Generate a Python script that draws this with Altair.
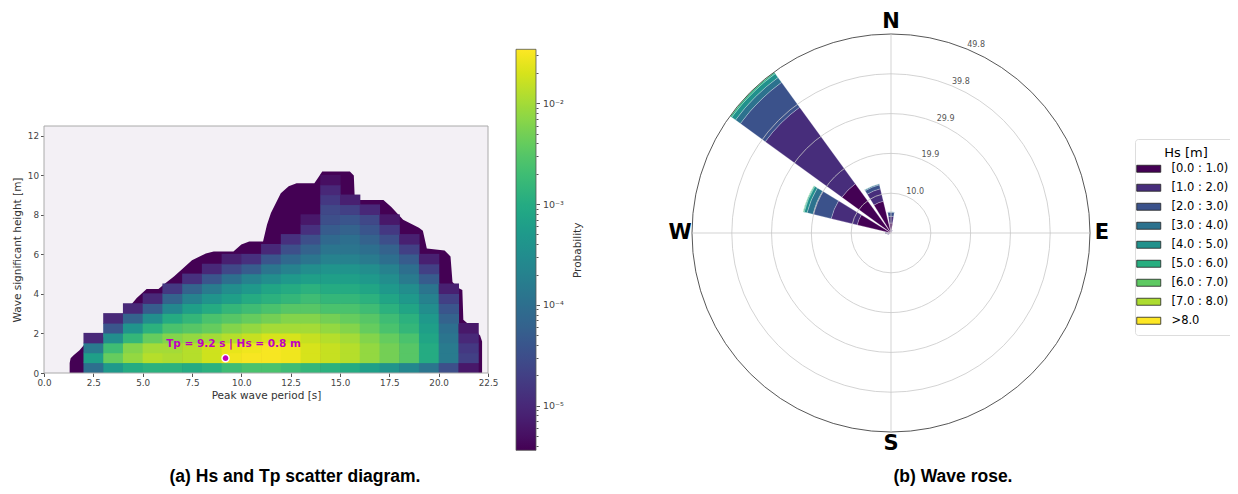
import math
import altair as alt
import pandas as pd

# ------------------------------------------------------------------
# (a) Hs / Tp scatter diagram
# ------------------------------------------------------------------
tp_cols = list(range(1, 22))          # lower edge of 1 s wide Tp columns (1..21)
hs_rows_step = 0.5                     # Hs rows of 0.5 m starting at 0
N = None
# log10(probability) per Hs row (bottom -> top), one value per Tp column (1..21)
log_prob_rows = [
    [N, -4.0, -3.3, -3.0, -2.9, -2.9, -3.0, -2.9, -2.7, -2.6, -2.6, -2.7, -2.8, -2.9, -3.0, -3.2, -3.4, -3.6, -3.9, -4.5, -5.2],
    [N, -3.2, -2.4, -2.1, -1.9, -1.95, -1.9, -1.75, -1.55, -1.5, -1.5, -1.55, -1.7, -1.8, -1.9, -2.1, -2.3, -2.5, -3.0, -3.8, -4.7],
    [N, -3.8, -2.7, -2.2, -2.0, -2.0, -1.9, -1.75, -1.6, -1.55, -1.5, -1.55, -1.7, -1.8, -1.9, -2.1, -2.3, -2.5, -3.0, -3.8, -4.8],
    [N, -5.0, -3.5, -2.8, -2.4, -2.2, -2.1, -2.0, -1.9, -1.8, -1.7, -1.7, -1.8, -1.9, -2.0, -2.2, -2.4, -2.6, -3.1, -3.9, -5.0],
    [N, N, -4.4, -3.4, -2.9, -2.6, -2.5, -2.4, -2.2, -2.1, -2.0, -2.0, -2.0, -2.1, -2.2, -2.4, -2.6, -2.8, -3.2, -4.0, -5.2],
    [N, N, -5.0, -4.2, -3.5, -3.0, -2.8, -2.6, -2.5, -2.4, -2.3, -2.2, -2.2, -2.3, -2.4, -2.5, -2.7, -2.9, -3.3, -4.2, N],
    [N, N, N, -5.0, -4.3, -3.6, -3.2, -3.0, -2.8, -2.7, -2.6, -2.5, -2.5, -2.6, -2.6, -2.7, -2.9, -3.1, -3.5, -4.4, N],
    [N, N, N, N, -5.0, -4.2, -3.7, -3.4, -3.2, -3.0, -2.9, -2.8, -2.7, -2.8, -2.8, -2.9, -3.1, -3.3, -3.7, -4.7, N],
    [N, N, N, N, N, -4.8, -4.2, -3.8, -3.5, -3.3, -3.1, -3.0, -2.9, -3.0, -3.0, -3.1, -3.3, -3.5, -3.9, -5.1, N],
    [N, N, N, N, N, N, -4.9, -4.4, -4.0, -3.7, -3.5, -3.3, -3.2, -3.2, -3.2, -3.3, -3.5, -3.8, -4.3, N, N],
    [N, N, N, N, N, N, N, -5.0, -4.6, -4.3, -3.9, -3.7, -3.5, -3.4, -3.4, -3.5, -3.7, -4.0, -4.7, N, N],
    [N, N, N, N, N, N, N, N, -5.1, -4.9, -4.4, -4.1, -3.9, -3.7, -3.7, -3.8, -4.0, -4.3, -5.1, N, N],
    [N, N, N, N, N, N, N, N, N, N, -5.0, -4.5, -4.2, -3.9, -3.9, -4.0, -4.2, -4.7, N, N, N],
    [N, N, N, N, N, N, N, N, N, N, N, -4.9, -4.5, -4.1, -4.0, -4.2, -4.5, -5.1, N, N, N],
    [N, N, N, N, N, N, N, N, N, N, N, N, -4.9, -4.3, -4.2, -4.4, -4.8, N, N, N, N],
    [N, N, N, N, N, N, N, N, N, N, N, N, -5.2, -4.5, -4.4, -4.6, -5.2, N, N, N, N],
    [N, N, N, N, N, N, N, N, N, N, N, N, N, -4.6, -4.7, -5.0, N, N, N, N, N],
    [N, N, N, N, N, N, N, N, N, N, N, N, N, -4.8, -5.1, N, N, N, N, N, N],
    [N, N, N, N, N, N, N, N, N, N, N, N, N, -5.0, N, N, N, N, N, N, N],
    [N, N, N, N, N, N, N, N, N, N, N, N, N, -5.3, N, N, N, N, N, N, N],
]

# outer envelope of the lowest-probability region
env_tp = [1.3, 1.35, 1.5, 1.8, 2.1, 2.3, 2.85, 3.2, 3.6, 4.2, 4.7, 5.2, 5.8, 6.1, 6.6, 7.5, 8.2, 8.6,
          9.6, 10.0, 10.4, 11.1, 11.3, 11.5, 12.0, 12.4, 12.8, 13.7, 13.9, 14.1, 15.5, 15.7, 15.75,
          17.2, 17.6, 18.2, 19.0, 19.2, 19.4, 20.3, 20.6, 20.7, 21.0, 21.2, 21.25, 21.7, 22.1, 22.2]
env_hs = [0.5, 0.75, 0.9, 1.15, 1.5, 1.65, 1.65, 2.0, 2.5, 3.2, 3.8, 4.25, 4.25, 4.5, 4.9, 5.7, 6.05, 6.15,
          6.15, 6.5, 6.65, 6.65, 7.5, 8.1, 9.1, 9.45, 9.6, 9.6, 9.9, 10.2, 10.2, 10.0, 8.75,
          8.75, 8.4, 7.75, 7.35, 7.2, 6.3, 6.2, 5.9, 4.6, 4.3, 4.2, 2.7, 2.3, 1.9, 1.6]

peak_tp = [9.2]
peak_hs = [0.75]
peak_label = ["Tp = 9.2 s | Hs = 0.8 m"]

x_ticks = [0.0, 2.5, 5.0, 7.5, 10.0, 12.5, 15.0, 17.5, 20.0, 22.5]
y_ticks = [0, 2, 4, 6, 8, 10, 12]
prob_domain = [3.6e-6, 0.0344]
cbar_decades = [-6, -5, -4, -3, -2]
cbar_mantissas = [1, 2, 3, 4, 5, 6, 7, 8, 9]

# ------------------------------------------------------------------
# (b) wave rose -- frequency (%) per direction sector and Hs class
# ------------------------------------------------------------------
sector_deg = [0, 22.5, 45, 67.5, 90, 112.5, 135, 157.5, 180, 202.5, 225, 247.5, 270, 292.5, 315, 337.5]
hs_bins = ["[0.0 : 1.0)", "[1.0 : 2.0)", "[2.0 : 3.0)", "[3.0 : 4.0)", "[4.0 : 5.0)",
           "[5.0 : 6.0)", "[6.0 : 7.0)", "[7.0 : 8.0)", ">8.0"]
bin_colors = ["#440154", "#472d7b", "#3b528b", "#2c728e", "#21918c",
              "#28ae80", "#5ec962", "#addc30", "#fde725"]
freq_b0 = [2.5, 0.4, 0.2, 0.1, 0, 0, 0, 0, 0, 0, 0.2, 0.5, 0.8, 8.7, 15.2, 8.2]
freq_b1 = [1.7, 0.3, 0.1, 0, 0, 0, 0, 0, 0, 0, 0.1, 0.3, 0.5, 6.7, 23.7, 3.2]
freq_b2 = [1.0, 0.1, 0, 0, 0, 0, 0, 0, 0, 0, 0, 0.1, 0.2, 4.7, 7.7, 1.0]
freq_b3 = [0.1, 0, 0, 0, 0, 0, 0, 0, 0, 0, 0, 0, 0, 1.5, 1.5, 0.25]
freq_b4 = [0, 0, 0, 0, 0, 0, 0, 0, 0, 0, 0, 0, 0, 0.75, 1.2, 0.05]
freq_b5 = [0, 0, 0, 0, 0, 0, 0, 0, 0, 0, 0, 0, 0, 0.25, 0.4, 0]
freq_b6 = [0, 0, 0, 0, 0, 0, 0, 0, 0, 0, 0, 0, 0, 0.05, 0.1, 0]
freq_b7 = [0] * 16
freq_b8 = [0] * 16
freq_bins = [freq_b0, freq_b1, freq_b2, freq_b3, freq_b4, freq_b5, freq_b6, freq_b7, freq_b8]
ring_values = [9.96, 19.92, 29.88, 39.84]
ring_outer = [49.8]
ring_labels = ["10.0", "19.9", "29.9", "39.8", "49.8"]
cardinal_labels = ["N", "E", "S", "W"]
cardinal_deg = [0, 90, 180, 270]

captions = ["(a) Hs and Tp scatter diagram.", "(b) Wave rose."]

# ------------------------------------------------------------------
# tables
# ------------------------------------------------------------------
cells = []
for r, row in enumerate(log_prob_rows):
    for c, v in zip(tp_cols, row):
        if v is None:
            continue
        cells.append({"tp0": c, "tp1": c + 1, "hs0": r * hs_rows_step,
                      "hs1": (r + 1) * hs_rows_step, "prob": 10 ** v})
cells_df = pd.DataFrame(cells)
env_df = pd.DataFrame({"tp": env_tp, "hs": env_hs, "base": [0.0] * len(env_tp)})
peak_df = pd.DataFrame({"tp": peak_tp, "hs": peak_hs, "label": peak_label})
cbar_df = pd.DataFrame({"v": [m * 10.0 ** d for d in cbar_decades for m in cbar_mantissas
                              if prob_domain[0] <= m * 10.0 ** d <= prob_domain[1]]})

wedges = []
half = 0.4 * 22.5
for s, deg in enumerate(sector_deg):
    cum = 0.0
    a0 = deg - half if deg - half >= 0 else deg - half + 360
    for b, lab in enumerate(hs_bins):
        v = freq_bins[b][s]
        if v <= 0:
            continue
        wedges.append({"t0": math.radians(a0), "t1": math.radians(a0 + 2 * half),
                       "r0": cum, "r1": cum + v, "hs": lab})
        cum += v
wedge_df = pd.DataFrame(wedges)
ring_df = pd.DataFrame({"r": ring_values})
outer_df = pd.DataFrame({"r": ring_outer})
ring_lab_df = pd.DataFrame({"r": ring_values + ring_outer, "lab": ring_labels})
card_df = pd.DataFrame({"th": [math.radians(d) for d in cardinal_deg], "lab": cardinal_labels})
dummy = pd.DataFrame({"d": [0]})

# ------------------------------------------------------------------
# layout (pixels inside the 1222 x 478 canvas)
# ------------------------------------------------------------------
W, H = 1222, 478
HX0, HX1, HY0, HY1 = 36, 480, 118, 365      # heatmap plot box
CBX, CBY, CBL, CBT = 508, 41.3, 401, 20     # colorbar
CX, CY, RAD = 883, 225, 199                 # rose centre / radius

XS = alt.Scale(domain=[0, 22.5], range=[HX0, HX1], nice=False, zero=False)
YS = alt.Scale(domain=[0, 12.5], range=[HY1, HY0], nice=False, zero=False)
CS = alt.Scale(type="log", domain=prob_domain, scheme="viridis")

X_AX = alt.Axis(orient="bottom", offset=-(H - HY1), values=x_ticks, format=".1f", grid=False,
                domain=False, tickSize=3.5, tickColor="#555", labelColor="#444", labelFontSize=8.8,
                labelPadding=2, labelFlush=False, labelOverlap=False,
                title="Peak wave period [s]", titleFontSize=10.5, titleFontWeight="normal",
                titleColor="#333", titlePadding=3)
Y_AX = alt.Axis(orient="left", offset=-HX0, values=y_ticks, grid=False, domain=False,
                tickSize=3.5, tickColor="#555", labelColor="#444", labelFontSize=8.8,
                labelPadding=2, labelOverlap=False,
                title="Wave significant height [m]", titleFontSize=10.5,
                titleFontWeight="normal", titleColor="#333", titlePadding=5)

bg = alt.Chart(dummy).mark_rect(fill="#f3f0f5").encode(
    x=alt.value(HX0), x2=alt.value(HX1), y=alt.value(HY0), y2=alt.value(HY1))
frame = alt.Chart(dummy).mark_rect(fillOpacity=0, stroke="#aaaaaa", strokeWidth=1).encode(
    x=alt.value(HX0), x2=alt.value(HX1), y=alt.value(HY0), y2=alt.value(HY1))

env = alt.Chart(env_df).mark_area(color="#440154", interpolate="linear").encode(
    x=alt.X("tp:Q", scale=XS, axis=X_AX),
    y=alt.Y("hs:Q", scale=YS, axis=Y_AX, stack=None),
    y2="base:Q")

heat_cells = alt.Chart(cells_df).mark_rect(x2Offset=0.6, y2Offset=-0.6).encode(
    x=alt.X("tp0:Q", scale=XS, axis=X_AX), x2="tp1:Q",
    y=alt.Y("hs0:Q", scale=YS, axis=Y_AX), y2="hs1:Q",
    color=alt.Color("prob:Q", scale=CS, legend=alt.Legend(
        type="gradient", orient="none", legendX=CBX, legendY=CBY, direction="vertical",
        gradientLength=CBL, gradientThickness=CBT, title=None, labelExpr="''",
        gradientStrokeColor="#555", gradientStrokeWidth=0.8, padding=0)))

peak_pt = alt.Chart(peak_df).mark_point(filled=True, fill="#bf00bf", stroke="white",
                                        strokeWidth=1.4, size=50, opacity=1).encode(
    x=alt.X("tp:Q", scale=XS, axis=X_AX), y=alt.Y("hs:Q", scale=YS, axis=Y_AX))
peak_txt = alt.Chart(peak_df).mark_text(color="#bf00bf", fontWeight="bold", fontSize=10.5,
                                        dx=8, dy=-14, font="DejaVu Sans").encode(
    x=alt.X("tp:Q", scale=XS, axis=X_AX), y=alt.Y("hs:Q", scale=YS, axis=Y_AX), text="label:N")

heat = alt.layer(bg, env, heat_cells, frame, peak_pt, peak_txt)

# colour-bar ticks/labels
e_expr = "round(log(datum.value)/LN10)"
major = f"abs(log(datum.value)/LN10 - {e_expr}) < 0.001"
lab_expr = (f"{major} ? ({e_expr} == -2 ? '10\u207b\u00b2' : {e_expr} == -3 ? '10\u207b\u00b3' : "
            f"{e_expr} == -4 ? '10\u207b\u2074' : {e_expr} == -5 ? '10\u207b\u2075' : '') : ''")
CB_AX = alt.Axis(orient="right", offset=-(W - (CBX + CBT)), values=list(cbar_df["v"]),
                 labelExpr=lab_expr, labelOverlap=False,
                 tickSize={"condition": {"test": major, "value": 3.5}, "value": 2.0},
                 tickColor="#555", domain=False, grid=False, labelFontSize=9.5,
                 labelColor="#444", labelPadding=3, title="Probability", titleAngle=270,
                 titleFontSize=10.5, titleFontWeight="normal", titleColor="#333",
                 titlePadding=19)
cbar = alt.Chart(cbar_df).mark_point(opacity=0).encode(
    y=alt.Y("v:Q", scale=alt.Scale(type="log", domain=prob_domain,
                                   range=[CBY + CBL, CBY], nice=False), axis=CB_AX))

# rose
RS = alt.Scale(domain=[0, 49.8], range=[0, RAD], nice=False, zero=True)
rose_wedges = alt.Chart(wedge_df).mark_arc(stroke="white", strokeWidth=0.5,
                                           strokeOpacity=0.5).encode(
    theta=alt.Theta("t0:Q", scale=None, stack=None), theta2="t1:Q",
    radius=alt.Radius("r1:Q", scale=RS, stack=None), radius2="r0:Q",
    x=alt.value(CX), y=alt.value(CY),
    color=alt.Color("hs:N", scale=alt.Scale(domain=hs_bins, range=bin_colors),
                    legend=alt.Legend(orient="none", legendX=1127, legendY=131,
                                      title="Hs [m]", titleFontSize=13,
                                      titleFontWeight="normal", titleColor="black",
                                      titleAnchor="middle", titlePadding=3,
                                      labelFontSize=11.5, labelColor="black",
                                      symbolType="M-3.43,-1H3.43V1H-3.43Z", symbolSize=49,
                                      symbolStrokeColor="#222", symbolStrokeWidth=0.8,
                                      symbolOpacity=1, labelOffset=17, rowPadding=6,
                                      padding=8, strokeColor="#dddddd", fillColor="white",
                                      cornerRadius=3)))
rings = alt.Chart(ring_df).mark_arc(fillOpacity=0, stroke="#c8c8c8", strokeWidth=0.8).encode(
    theta=alt.value(0), theta2=alt.value(6.2832),
    radius=alt.Radius("r:Q", scale=RS, stack=None), x=alt.value(CX), y=alt.value(CY))
outer = alt.Chart(outer_df).mark_arc(fillOpacity=0, stroke="#444", strokeWidth=0.9).encode(
    theta=alt.value(0), theta2=alt.value(6.2832),
    radius=alt.Radius("r:Q", scale=RS, stack=None), x=alt.value(CX), y=alt.value(CY))
hline = alt.Chart(dummy).mark_rule(color="#c8c8c8", strokeWidth=0.8).encode(
    x=alt.value(CX - RAD), x2=alt.value(CX + RAD), y=alt.value(CY))
vline = alt.Chart(dummy).mark_rule(color="#c8c8c8", strokeWidth=0.8).encode(
    x=alt.value(CX), y=alt.value(CY - RAD), y2=alt.value(CY + RAD))
ring_txt = alt.Chart(ring_lab_df).mark_text(align="left", baseline="bottom", fontSize=8,
                                            color="#555").encode(
    theta=alt.value(0.3927), radius=alt.Radius("r:Q", scale=RS, stack=None),
    x=alt.value(CX), y=alt.value(CY), text="lab:N")
card_txt = alt.Chart(card_df).mark_text(fontSize=21, fontWeight="bold", color="black",
                                        align="center", baseline="middle").encode(
    theta=alt.Theta("th:Q", scale=None, stack=None), radius=alt.value(RAD + 12),
    x=alt.value(CX), y=alt.value(CY), text="lab:N")
rose = alt.layer(rose_wedges, rings, outer, hline, vline, ring_txt, card_txt)

cap_a = alt.Chart(dummy).mark_text(text=captions[0], fontSize=17.5, fontWeight="bold",
                                   font="Liberation Sans", align="center",
                                   baseline="alphabetic").encode(x=alt.value(287), y=alt.value(474))
cap_b = alt.Chart(dummy).mark_text(text=captions[1], fontSize=17.5, fontWeight="bold",
                                   font="Liberation Sans", align="center",
                                   baseline="alphabetic").encode(x=alt.value(945), y=alt.value(474))

chart = alt.layer(heat, cbar, rose, cap_a, cap_b).resolve_scale(
    x="independent", y="independent", color="independent", radius="independent"
).resolve_axis(x="independent", y="independent").resolve_legend(
    color="independent"
).properties(
    width=W, height=H, autosize=alt.AutoSizeParams(type="none"), padding=0
).configure(font="DejaVu Sans").configure_view(stroke="transparent")

chart.save("out.html", embed_options={"renderer": "svg", "actions": False})
